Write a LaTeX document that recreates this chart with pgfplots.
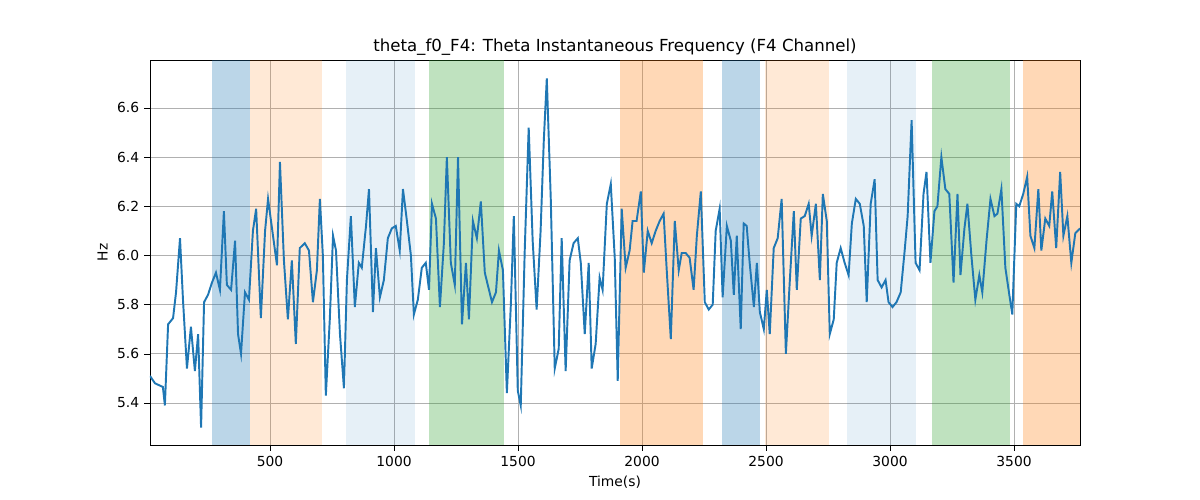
\documentclass[border=0pt]{standalone}
\usepackage{pgfplots}
\pgfplotsset{compat=1.18}
\usepackage{fontspec}
\setmainfont{DejaVu Sans}
\definecolor{tb}{HTML}{1F77B4}
\definecolor{to}{HTML}{FF7F0E}
\definecolor{tg}{HTML}{2CA02C}
\begin{document}
\begin{tikzpicture}
\begin{axis}[name=ax, scale only axis, width=9.3in, height=3.85in,
 xmin=16, xmax=3766, ymin=5.229, ymax=6.795,
 xtick={500,1000,1500,2000,2500,3000,3500},
 ytick={5.4,5.6,5.8,6.0,6.2,6.4,6.6},
 xtick pos=bottom, ytick pos=left,
 xticklabel style={/pgf/number format/1000 sep={}},
 yticklabel style={/pgf/number format/fixed,/pgf/number format/fixed zerofill,/pgf/number format/precision=1},
 /pgf/number format/assume math mode=true,
 grid=major, grid style={color={rgb,255:red,176;green,176;blue,176}, line width=0.6pt},
 tick style={black}, tick align=outside,
 xlabel={Time(s)}, ylabel={Hz},
 title={theta\_f0\_F4: Theta Instantaneous Frequency (F4 Channel)},
 title style={font=\fontsize{12}{14}\selectfont, yshift=-6pt},
 tick label style={font=\fontsize{10}{12}\selectfont},
 label style={font=\fontsize{10}{12}\selectfont},
 clip=true]
\fill[tb, opacity=0.3] (axis cs:266,5.229) rectangle (axis cs:419,6.795);
\fill[to, opacity=0.17] (axis cs:419,5.229) rectangle (axis cs:709,6.795);
\fill[tb, opacity=0.11] (axis cs:806,5.229) rectangle (axis cs:1084,6.795);
\fill[tg, opacity=0.3] (axis cs:1141,5.229) rectangle (axis cs:1444,6.795);
\fill[to, opacity=0.3] (axis cs:1911,5.229) rectangle (axis cs:2245,6.795);
\fill[tb, opacity=0.3] (axis cs:2322,5.229) rectangle (axis cs:2476,6.795);
\fill[to, opacity=0.17] (axis cs:2496,5.229) rectangle (axis cs:2754,6.795);
\fill[tb, opacity=0.11] (axis cs:2826,5.229) rectangle (axis cs:3105,6.795);
\fill[tg, opacity=0.3] (axis cs:3170,5.229) rectangle (axis cs:3484,6.795);
\fill[to, opacity=0.3] (axis cs:3536,5.229) rectangle (axis cs:3766,6.795);
\addplot[tb, line width=1.4pt, mark=none] coordinates {
(16,5.51)(36,5.48)(68,5.465)(76,5.39)(89,5.72)(109,5.745)(121,5.85)(137,6.07)(149,5.82)(165,5.54)
(181,5.71)(197,5.53)(210,5.68)(222,5.30)(234,5.81)(250,5.84)(266,5.89)(282,5.93)(298,5.86)(314,6.18)
(326,5.88)(343,5.86)(359,6.06)(371,5.68)(383,5.60)(399,5.85)(415,5.82)(431,6.10)(444,6.19)(463,5.745)
(480,6.10)(492,6.23)(508,6.11)(528,5.96)(540,6.38)(556,5.98)(572,5.74)(588,5.98)(604,5.64)(620,6.03)
(640,6.05)(657,6.02)(673,5.81)(689,5.94)(701,6.23)(713,6.00)(725,5.43)(741,5.74)(754,6.08)(766,6.02)
(782,5.68)(798,5.46)(810,5.90)(826,6.16)(842,5.79)(858,5.97)(870,5.95)(887,6.12)(899,6.27)(915,5.77)
(927,6.03)(943,5.83)(959,5.90)(975,6.07)(991,6.11)(1007,6.12)(1023,6.02)(1036,6.27)(1052,6.14)(1068,6.00)
(1080,5.76)(1096,5.82)(1112,5.95)(1128,5.97)(1141,5.86)(1153,6.21)(1169,6.15)(1185,5.79)(1201,6.05)(1213,6.40)
(1229,5.97)(1245,5.88)(1258,6.40)(1274,5.72)(1290,5.97)(1302,5.74)(1318,6.14)(1334,6.07)(1350,6.22)(1366,5.93)
(1378,5.88)(1395,5.81)(1411,5.85)(1423,6.02)(1439,5.94)(1455,5.44)(1471,5.80)(1483,6.16)(1499,5.45)(1511,5.39)
(1527,6.02)(1543,6.52)(1559,6.06)(1575,5.78)(1591,6.10)(1604,6.47)(1616,6.72)(1632,6.23)(1648,5.54)(1664,5.62)
(1676,6.07)(1692,5.53)(1708,5.98)(1724,6.05)(1741,6.07)(1753,5.97)(1769,5.68)(1785,5.97)(1797,5.54)(1813,5.64)
(1829,5.91)(1841,5.86)(1858,6.21)(1874,6.29)(1890,5.99)(1902,5.49)(1918,6.19)(1934,5.95)(1950,6.02)(1962,6.14)
(1978,6.14)(1995,6.26)(2007,5.93)(2023,6.10)(2039,6.05)(2055,6.10)(2071,6.14)(2087,6.17)(2099,5.95)(2116,5.66)
(2132,6.14)(2148,5.94)(2160,6.01)(2176,6.01)(2192,5.99)(2208,5.86)(2221,6.08)(2237,6.26)(2253,5.81)(2269,5.78)
(2285,5.80)(2297,6.10)(2313,6.19)(2325,5.83)(2342,6.12)(2358,6.06)(2370,5.84)(2382,6.08)(2398,5.70)(2410,6.13)
(2422,6.12)(2434,5.97)(2451,5.79)(2463,5.97)(2475,5.77)(2491,5.70)(2503,5.86)(2515,5.68)(2531,6.03)(2547,6.07)
(2563,6.23)(2580,5.60)(2596,5.90)(2612,6.18)(2624,5.86)(2640,6.15)(2656,6.16)(2672,6.21)(2684,6.08)(2701,6.21)
(2717,5.90)(2729,6.25)(2745,6.14)(2757,5.68)(2773,5.74)(2785,5.97)(2801,6.03)(2817,5.97)(2833,5.92)(2846,6.13)
(2862,6.23)(2878,6.21)(2894,6.12)(2906,5.81)(2922,6.21)(2938,6.31)(2950,5.90)(2966,5.87)(2982,5.90)(2994,5.81)
(3010,5.79)(3026,5.81)(3043,5.85)(3059,6.02)(3071,6.16)(3087,6.55)(3103,5.97)(3119,5.94)(3135,6.25)(3147,6.34)
(3163,5.97)(3179,6.18)(3191,6.20)(3207,6.40)(3223,6.27)(3239,6.25)(3256,5.89)(3272,6.25)(3284,5.92)(3300,6.11)
(3312,6.21)(3328,6.00)(3344,5.82)(3360,5.92)(3372,5.85)(3389,6.06)(3405,6.23)(3421,6.16)(3433,6.17)(3449,6.27)
(3465,5.95)(3481,5.84)(3493,5.76)(3509,6.21)(3521,6.20)(3537,6.25)(3553,6.32)(3566,6.08)(3582,6.03)(3598,6.27)
(3610,6.02)(3626,6.15)(3642,6.12)(3654,6.26)(3670,6.03)(3686,6.34)(3699,6.08)(3715,6.16)(3731,5.97)(3747,6.09)
(3766,6.11)};
\end{axis}
\path[use as bounding box] ([xshift=-1.5in,yshift=-0.55in]ax.south west) rectangle ([xshift=1.2in,yshift=0.6in]ax.north east);
\end{tikzpicture}
\end{document}
